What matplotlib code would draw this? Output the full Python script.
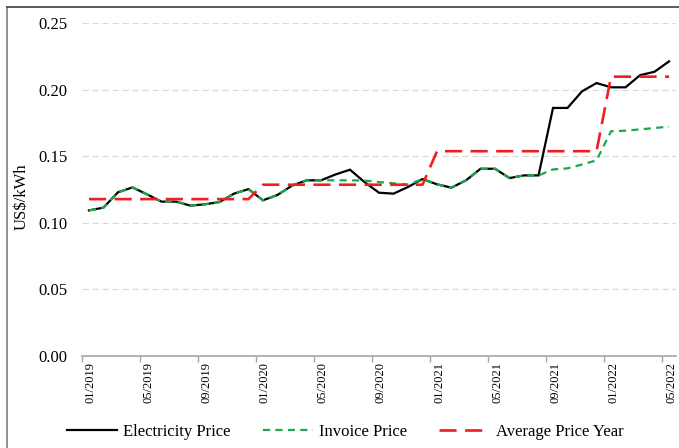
import matplotlib
matplotlib.use("Agg")
import matplotlib.pyplot as plt
from matplotlib.lines import Line2D
import matplotlib.transforms as mtransforms
import numpy as np

plt.rcParams['font.family'] = ['Liberation Serif', 'DejaVu Serif']

# Monthly data 01/2019 .. 05/2022
electricity_price = [0.1094, 0.1115, 0.1230, 0.1267, 0.1215, 0.1160, 0.1160, 0.1130, 0.1140, 0.1157,
                     0.1220, 0.1254, 0.1170, 0.1210, 0.1280, 0.1320, 0.1320, 0.1364, 0.1400, 0.1307,
                     0.1227, 0.1220, 0.1270, 0.1330, 0.1290, 0.1265, 0.1320, 0.1407, 0.1407, 0.1337,
                     0.1357, 0.1357, 0.1864, 0.1864, 0.1989, 0.2051, 0.2019, 0.2019, 0.2110, 0.2136,
                     0.2214]
invoice_price = [0.1094, 0.1115, 0.1230, 0.1267, 0.1215, 0.1160, 0.1160, 0.1130, 0.1140, 0.1157,
                 0.1220, 0.1254, 0.1170, 0.1210, 0.1280, 0.1320, 0.1320, 0.1320, 0.1320, 0.1318,
                 0.1307, 0.1298, 0.1287, 0.1330, 0.1290, 0.1265, 0.1320, 0.1407, 0.1407, 0.1337,
                 0.1357, 0.1357, 0.1402, 0.1410, 0.1439, 0.1470, 0.1689, 0.1693, 0.1703, 0.1713,
                 0.1724]
year_average = [0.1179, 0.1287, 0.1539, 0.2099]
months_per_year = [12, 12, 12, 5]
tick_labels = ["01/2019", "05/2019", "09/2019", "01/2020", "05/2020", "09/2020",
               "01/2021", "05/2021", "09/2021", "01/2022", "05/2022"]
y_ticks = [0.00, 0.05, 0.10, 0.15, 0.20, 0.25]

average_price = []
for avg, n in zip(year_average, months_per_year):
    average_price.extend([avg] * n)

x = np.arange(len(electricity_price))

fig = plt.figure(figsize=(6.79, 4.48), dpi=100)
ax = fig.add_axes([81.7 / 679, 1 - 356 / 448, (676.3 - 81.7) / 679, (356 - 23.3) / 448])

c_black = '#000000'
c_green = '#1aa84a'
c_red = '#f01e1e'

ax.plot(x, electricity_price, color=c_black, lw=1.6, solid_joinstyle='miter', zorder=3)
ax.plot(x, invoice_price, color=c_green, lw=1.6, dashes=(3.2, 2.4), zorder=4)
ax.plot(x, average_price, color=c_red, lw=1.9, dashes=(6.5, 3.2), zorder=5)

ax.set_xlim(-0.5, len(x) - 0.5)
ax.set_ylim(0, 0.25)
ax.set_yticks(y_ticks)
ax.set_yticklabels([f"{v:.2f}" for v in y_ticks], fontsize=12)
ax.tick_params(axis='y', length=0, pad=10)

major = np.arange(0, len(x), 4)
ax.set_xticks(major)
ax.set_xticklabels(tick_labels, rotation=90, fontsize=9)
ax.set_xticks(major - 0.5, minor=True)
ax.tick_params(axis='x', which='major', length=0, pad=4)
ax.tick_params(axis='x', which='minor', length=4, width=1, color='#a6a6a6', direction='out')
shift = mtransforms.ScaledTranslation(2 / 100, 0, fig.dpi_scale_trans)
for lab in ax.get_xticklabels():
    lab.set_transform(lab.get_transform() + shift)

for v in y_ticks[1:]:
    ax.axhline(v, color='#d9d9d9', lw=0.9, dashes=(5, 3), zorder=1)

for s in ['left', 'right', 'top']:
    ax.spines[s].set_visible(False)
ax.spines['bottom'].set_color('#a6a6a6')
ax.spines['bottom'].set_linewidth(1.2)

fig.text(22 / 679, 1 - 197 / 448, "US$/kWh", rotation=90, ha='center', va='center', fontsize=12)

# outer frame (left and top edges)
fig.add_artist(Line2D([7 / 679, 7 / 679], [0, 1 - 7 / 448], transform=fig.transFigure,
                      color='#808080', lw=1.2))
fig.add_artist(Line2D([7 / 679, 1], [1 - 7 / 448, 1 - 7 / 448], transform=fig.transFigure,
                      color='#404040', lw=1.2))

handles = [Line2D([], [], color=c_black, lw=1.6),
           Line2D([], [], color=c_green, lw=1.6, dashes=(3.2, 2.4)),
           Line2D([], [], color=c_red, lw=1.9, dashes=(6.5, 3.2))]
fig.legend(handles, ["Electricity Price", "Invoice Price", "Average Price Year"],
           loc='center', bbox_to_anchor=(345 / 679, 1 - 432 / 448), ncol=3, frameon=False,
           fontsize=12, handlelength=3.0, handletextpad=0.4, columnspacing=1.9)

fig.savefig("out.png", dpi=100)
